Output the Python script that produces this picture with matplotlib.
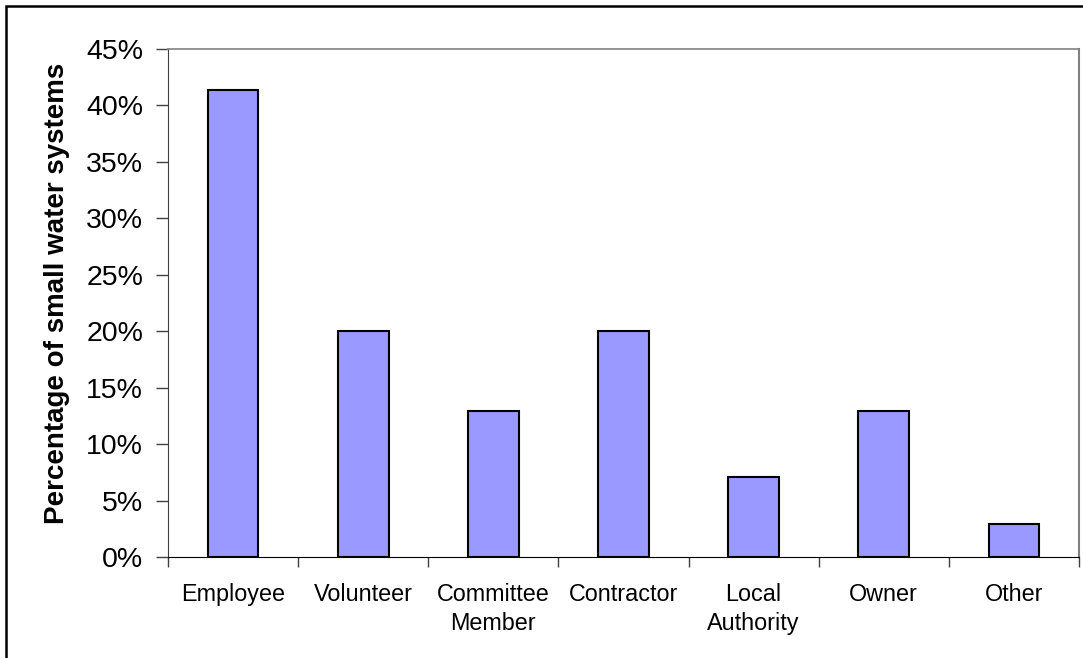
import matplotlib.pyplot as plt
import matplotlib.patches as mpatches
from matplotlib.ticker import FuncFormatter, MultipleLocator
import numpy as np

plt.rcParams['font.family'] = ['Liberation Sans', 'DejaVu Sans']

# who operates the system
roles = ['Employee', 'Volunteer', 'Committee\nMember', 'Contractor',
         'Local\nAuthority', 'Owner', 'Other']
share = [41.4, 20.0, 12.9, 20.0, 7.1, 12.9, 2.9]

fig = plt.figure(figsize=(10.83, 6.58), dpi=100)
ax = fig.add_axes([168 / 1083, 101 / 658, 911 / 1083, 508 / 658])

x = np.arange(len(roles))
ax.bar(x, share, width=0.39, color='#9999FF', edgecolor='black', linewidth=1.5)

ax.set_xlim(-0.5, len(roles) - 0.5)
ax.set_ylim(0, 45)
ax.yaxis.set_major_locator(MultipleLocator(5))
ax.yaxis.set_major_formatter(FuncFormatter(lambda v, p: '%d%%' % round(v)))
ax.tick_params(axis='y', labelsize=20.5, length=9, width=1, pad=9, color='#404040')

# category names centred, tick marks between categories
ax.set_xticks(x)
ax.set_xticklabels(roles, fontsize=16.8, linespacing=1.3)
ax.set_xticks(np.arange(len(roles) + 1) - 0.5, minor=True)
ax.tick_params(axis='x', which='major', length=0, pad=19)
ax.tick_params(axis='x', which='minor', length=7, width=1, color='#404040')

ax.set_ylabel('Percentage of small water systems', fontsize=20, fontweight='bold')
ax.yaxis.set_label_coords(-0.108, 0.518)

ax.spines['top'].set_color('#808080')
ax.spines['right'].set_color('#808080')
ax.spines['top'].set_linewidth(1.2)
ax.spines['right'].set_linewidth(1.5)
ax.spines['left'].set_color('#404040')
ax.spines['bottom'].set_color('black')

# outer chart frame
fig.patches.append(mpatches.Rectangle((6 / 1083, -0.1), 1.2, 0.1 + 652 / 658,
                                      transform=fig.transFigure, fill=False,
                                      edgecolor='black', linewidth=1.8))

fig.savefig('out.png', dpi=100)
